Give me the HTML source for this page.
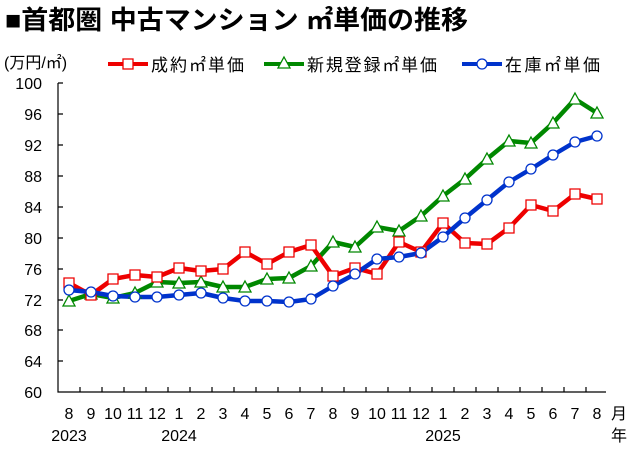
<!DOCTYPE html>
<html><head><meta charset="utf-8"><style>
body{margin:0;background:#fff;width:637px;height:453px;overflow:hidden}
svg{display:block}
text{font-family:"Liberation Sans","Noto Sans CJK JP",sans-serif;fill:#000}
</style></head><body>
<svg width="637" height="453" viewBox="0 0 637 453">
<text x="5" y="29" font-size="26" font-weight="bold" textLength="463" lengthAdjust="spacingAndGlyphs">■首都圏 中古マンション ㎡単価の推移</text>
<text x="4" y="68" font-size="16">(万円/㎡)</text>
<line x1="108" y1="64" x2="148" y2="64" stroke="#e00" stroke-width="4"/><rect x="123" y="59" width="10" height="10" fill="#fff" stroke="#e00" stroke-width="1.3"/>
<text x="151" y="71" font-size="17" textLength="93">成約㎡単価</text>
<line x1="264" y1="64" x2="304" y2="64" stroke="#080" stroke-width="4"/><polygon points="284,57 290,68 278,68" fill="#fff" stroke="#080" stroke-width="1.3"/>
<text x="307" y="71" font-size="17" textLength="130">新規登録㎡単価</text>
<line x1="462" y1="64" x2="502" y2="64" stroke="#03c" stroke-width="4"/><circle cx="482" cy="64" r="5" fill="#fff" stroke="#03c" stroke-width="1.3"/>
<text x="505" y="71" font-size="17" textLength="95">在庫㎡単価</text>
<g stroke="#000" stroke-width="1.2" fill="none">
<polyline points="58,83 58,392 606,392"/>
<path d="M58,83h5M58,114h5M58,145h5M58,176h5M58,207h5M58,238h5M58,269h5M58,300h5M58,330h5M58,361h5"/>
<path d="M80,392v-5M102,392v-5M124,392v-5M146,392v-5M168,392v-5M190,392v-5M212,392v-5M234,392v-5M256,392v-5M278,392v-5M300,392v-5M322,392v-5M344,392v-5M366,392v-5M388,392v-5M410,392v-5M432,392v-5M454,392v-5M476,392v-5M498,392v-5M520,392v-5M542,392v-5M564,392v-5M586,392v-5"/>
</g>
<g font-size="16" text-anchor="end">
<text x="42" y="89">100</text><text x="42" y="120">96</text><text x="42" y="151">92</text><text x="42" y="182">88</text><text x="42" y="213">84</text><text x="42" y="244">80</text><text x="42" y="275">76</text><text x="42" y="306">72</text><text x="42" y="336">68</text><text x="42" y="367">64</text><text x="42" y="398">60</text>
</g>
<g font-size="16" text-anchor="middle">
<text x="69" y="419">8</text><text x="91" y="419">9</text><text x="113" y="419">10</text><text x="135" y="419">11</text><text x="157" y="419">12</text><text x="179" y="419">1</text><text x="201" y="419">2</text><text x="223" y="419">3</text><text x="245" y="419">4</text><text x="267" y="419">5</text><text x="289" y="419">6</text><text x="311" y="419">7</text><text x="333" y="419">8</text><text x="355" y="419">9</text><text x="377" y="419">10</text><text x="399" y="419">11</text><text x="421" y="419">12</text><text x="443" y="419">1</text><text x="465" y="419">2</text><text x="487" y="419">3</text><text x="509" y="419">4</text><text x="531" y="419">5</text><text x="553" y="419">6</text><text x="575" y="419">7</text><text x="597" y="419">8</text>
<text x="69" y="441">2023</text><text x="179" y="441">2024</text><text x="443" y="441">2025</text>
<text x="619" y="419">月</text><text x="619" y="441">年</text>
</g>
<g fill="none" stroke-width="4.5" stroke-linejoin="round">
<polyline stroke="#080" points="69,301 91,294 113,298 135,293 157,282 179,283 201,282 223,287 245,287 267,279 289,278 311,266 333,242 355,247 377,227 399,231 421,216 443,196 465,179 487,159 509,141 531,143 553,123 575,99 597,113"/>
<polyline stroke="#e00" points="69,283 91,295 113,279 135,275 157,277 179,268 201,271 223,269 245,252 267,264 289,252 311,245 333,276 355,268 377,274 399,242 421,252 443,223 465,243 487,244 509,228 531,205 553,211 575,194 597,199"/>
<polyline stroke="#03c" points="69,290 91,292 113,296 135,297 157,297 179,295 201,293 223,298 245,301 267,301 289,302 311,299 333,286 355,274 377,259 399,257 421,253 443,237 465,218 487,200 509,182 531,169 553,155 575,142 597,136"/>
</g>
<g fill="#fff" stroke="#080" stroke-width="1.3">
<path d="M69,295l6,11h-12zM91,288l6,11h-12zM113,292l6,11h-12zM135,287l6,11h-12zM157,276l6,11h-12zM179,277l6,11h-12zM201,276l6,11h-12zM223,281l6,11h-12zM245,281l6,11h-12zM267,273l6,11h-12zM289,272l6,11h-12zM311,260l6,11h-12zM333,236l6,11h-12zM355,241l6,11h-12zM377,221l6,11h-12zM399,225l6,11h-12zM421,210l6,11h-12zM443,190l6,11h-12zM465,173l6,11h-12zM487,153l6,11h-12zM509,135l6,11h-12zM531,137l6,11h-12zM553,117l6,11h-12zM575,93l6,11h-12zM597,107l6,11h-12z"/>
</g>
<g fill="#fff" stroke="#e00" stroke-width="1.3">
<path d="M64,278h10v10h-10zM86,290h10v10h-10zM108,274h10v10h-10zM130,270h10v10h-10zM152,272h10v10h-10zM174,263h10v10h-10zM196,266h10v10h-10zM218,264h10v10h-10zM240,247h10v10h-10zM262,259h10v10h-10zM284,247h10v10h-10zM306,240h10v10h-10zM328,271h10v10h-10zM350,263h10v10h-10zM372,269h10v10h-10zM394,237h10v10h-10zM416,247h10v10h-10zM438,218h10v10h-10zM460,238h10v10h-10zM482,239h10v10h-10zM504,223h10v10h-10zM526,200h10v10h-10zM548,206h10v10h-10zM570,189h10v10h-10zM592,194h10v10h-10z"/>
</g>
<g fill="#fff" stroke="#03c" stroke-width="1.3">
<circle cx="69" cy="290" r="5"/><circle cx="91" cy="292" r="5"/><circle cx="113" cy="296" r="5"/><circle cx="135" cy="297" r="5"/><circle cx="157" cy="297" r="5"/><circle cx="179" cy="295" r="5"/><circle cx="201" cy="293" r="5"/><circle cx="223" cy="298" r="5"/><circle cx="245" cy="301" r="5"/><circle cx="267" cy="301" r="5"/><circle cx="289" cy="302" r="5"/><circle cx="311" cy="299" r="5"/><circle cx="333" cy="286" r="5"/><circle cx="355" cy="274" r="5"/><circle cx="377" cy="259" r="5"/><circle cx="399" cy="257" r="5"/><circle cx="421" cy="253" r="5"/><circle cx="443" cy="237" r="5"/><circle cx="465" cy="218" r="5"/><circle cx="487" cy="200" r="5"/><circle cx="509" cy="182" r="5"/><circle cx="531" cy="169" r="5"/><circle cx="553" cy="155" r="5"/><circle cx="575" cy="142" r="5"/><circle cx="597" cy="136" r="5"/>
</g>
</svg>
</body></html>
